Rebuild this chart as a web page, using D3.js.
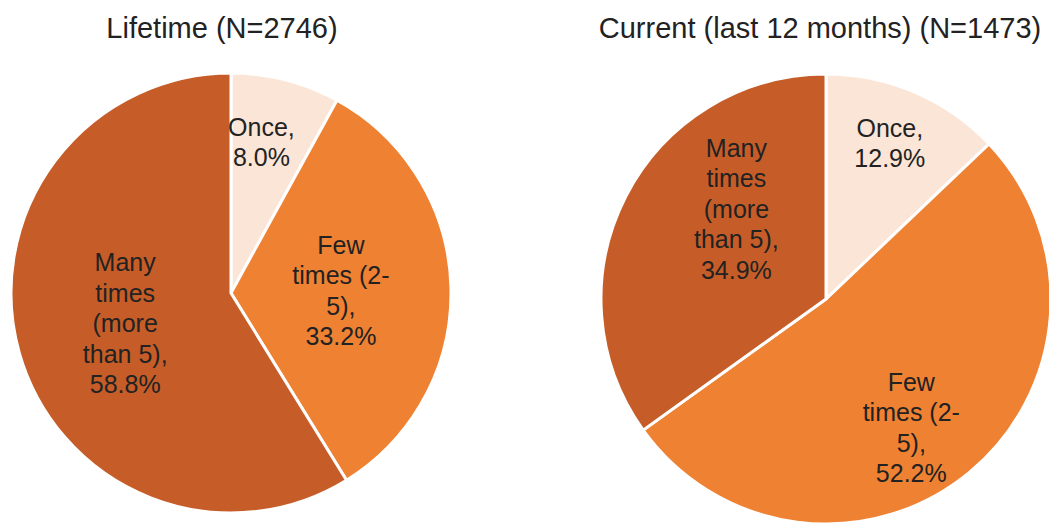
<!DOCTYPE html>
<html>
<head>
<meta charset="utf-8">
<script src="https://cdn.jsdelivr.net/npm/d3@7/dist/d3.min.js"></script>
<style>
  body { margin: 0; background: #fff; }
  svg text { font-family: "Liberation Sans", Arial, sans-serif; fill: #222; }
</style>
</head>
<body>
<svg id="chart" width="1049" height="529"></svg>
<script>
// ---- data ----
const categories = ["Once", "Few times (2-5)", "Many times (more than 5)"];
const lifetimeValues = [8.0, 33.2, 58.8];
const currentValues = [12.9, 52.2, 34.9];
const titles = ["Lifetime (N=2746)", "Current (last 12 months) (N=1473)"];
// label text lines (the percentage line is appended from the values)
const lifetimeLabelLines = [["Once,"], ["Few", "times (2-", "5),"], ["Many", "times", "(more", "than 5),"]];
const currentLabelLines = [["Once,"], ["Few", "times (2-", "5),"], ["Many", "times", "(more", "than 5),"]];

// ---- layout / style ----
const colors = ["#FBE5D6", "#EF8133", "#C65D28"];
const pies = [
  { values: lifetimeValues, lines: lifetimeLabelLines, title: titles[0],
    cx: 231, cy: 293, r: 220, titleX: 222,
    labelK: [0.70, 0.50, 0.50], labelDA: [-3, 0, 0] },
  { values: currentValues, lines: currentLabelLines, title: titles[1],
    cx: 826, cy: 299, r: 225, titleX: 820,
    labelK: [0.75, 0.685, 0.565], labelDA: [-1, 6, 18] }
];
const fmt = d3.format(".1f");
const svg = d3.select("#chart");
const pieGen = d3.pie().sort(null).value(d => d);

pies.forEach(p => {
  const g = svg.append("g").attr("transform", `translate(${p.cx},${p.cy})`);
  const arcs = pieGen(p.values);
  const arc = d3.arc().innerRadius(0).outerRadius(p.r);
  g.selectAll("path").data(arcs).join("path")
    .attr("d", arc)
    .attr("fill", (d, i) => colors[i])
    .attr("stroke", "#fff")
    .attr("stroke-width", 3)
    .attr("stroke-linejoin", "miter");

  svg.append("text")
    .attr("x", p.titleX).attr("y", 38)
    .attr("text-anchor", "middle")
    .attr("font-size", 29)
    .text(p.title);

  const lineH = 30.5;
  arcs.forEach((a, i) => {
    const mid = (a.startAngle + a.endAngle) / 2 + p.labelDA[i] * Math.PI / 180;
    const rr = p.r * p.labelK[i];
    const x = rr * Math.sin(mid), y = -rr * Math.cos(mid);
    const lines = p.lines[i].concat([fmt(p.values[i]) + "%"]);
    const t = g.append("text")
      .attr("text-anchor", "middle")
      .attr("font-size", 25);
    const y0 = y - (lines.length - 1) * lineH / 2 + 9;
    lines.forEach((ln, j) => {
      t.append("tspan").attr("x", x).attr("y", y0 + j * lineH).text(ln);
    });
  });
});
</script>
</body>
</html>
